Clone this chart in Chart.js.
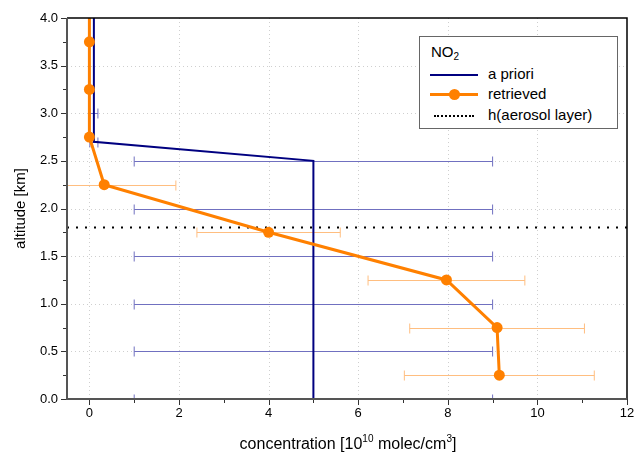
<!DOCTYPE html>
<html>
<head>
<meta charset="utf-8">
<script src="https://cdn.jsdelivr.net/npm/chart.js@4"></script>
<style>
  body { margin: 0; background: #fff; font-family: "Liberation Sans", Arial, sans-serif; }
  #wrap { position: relative; width: 635px; height: 456px; }
  #legend {
    position: absolute; left: 419px; top: 36px; width: 197px; height: 91px;
    border: 1px solid #666; background: #fff; font-size: 15px; color: #000;
  }
  #legend .title { position: absolute; left: 11px; top: 6px; }
  #legend .title sub { font-size: 10px; vertical-align: -3px; }
  #legend .row { position: absolute; left: 10px; height: 18px; width: 185px; }
  #legend .row span.txt { position: absolute; left: 58px; top: 0; line-height: 18px; }
  #legend .sample { position: absolute; left: 0; top: 9px; width: 48px; }
  #legend .dot { position: absolute; left: 19px; top: 4px; width: 11px; height: 11px; border-radius: 50%; background: #ff8000; }
  #xtitle {
    position: absolute; left: 0; width: 696px; top: 435px; text-align: center;
    font-size: 16px; color: #000;
  }
  #xtitle sup { font-size: 10px; vertical-align: 7px; line-height: 0; }
</style>
</head>
<body>
<div id="wrap">
  <canvas id="chart" width="635" height="456"></canvas>
  <div id="legend">
    <div class="title">NO<sub>2</sub></div>
    <div class="row" style="top:28px"><div class="sample" style="border-top:2px solid #000080"></div><span class="txt">a priori</span></div>
    <div class="row" style="top:48px"><div class="sample" style="border-top:3px solid #ff8000;top:8px"></div><div class="dot"></div><span class="txt">retrieved</span></div>
    <div class="row" style="top:69px"><div class="sample" style="border-top:2px dotted #000;width:40px;left:4px"></div><span class="txt">h(aerosol layer)</span></div>
  </div>
  <div id="xtitle">concentration [10<sup>10</sup> molec/cm<sup>3</sup>]</div>
</div>
<script>
// NO2 profile: a priori vs retrieved
const aprioriAlt = [4.0, 3.0, 2.7, 2.5, 2.0, 1.5, 1.0, 0.5, 0.0];
const aprioriConc = [0.1, 0.1, 0.1, 5.0, 5.0, 5.0, 5.0, 5.0, 5.0];
const aprioriErr = [0, 0.09, 0.09, 4.0, 4.0, 4.0, 4.0, 4.0, 4.0];

const retrievedAlt = [4.0, 3.75, 3.25, 2.75, 2.25, 1.75, 1.25, 0.75, 0.25];
const retrievedConc = [0.0, 0.0, 0.0, 0.0, 0.33, 4.0, 7.97, 9.1, 9.15];
const retrievedErr = [0, 0, 0, 0, 1.6, 1.6, 1.75, 1.95, 2.12];
const retrievedMarker = [0, 5.5, 5.5, 5.5, 5.5, 5.5, 5.5, 5.5, 5.5];

const aerosolLayer = 1.8;

const xMin = -0.5, xMax = 12;
const yMin = 0, yMax = 4;
const xTicks = [0, 2, 4, 6, 8, 10, 12];
const yTicks = [0, 0.5, 1.0, 1.5, 2.0, 2.5, 3.0, 3.5, 4.0];
const xMinorStep = 1;
const yMinorStep = 0.25;

const aprioriColor = '#000080';
const aprioriErrColor = '#7070c0';
const retrievedColor = '#ff8000';
const retrievedErrColor = '#ffbe80';

function toPoints(xs, ys) {
  return xs.map((x, i) => ({ x: x, y: ys[i] }));
}

// grid, error bars, frame and small ticks
const profilePlugin = {
  id: 'profile',
  beforeDatasetsDraw(chart) {
    const ctx = chart.ctx;
    const area = chart.chartArea;
    const xs = chart.scales.x, ys = chart.scales.y;

    ctx.save();
    ctx.strokeStyle = '#cfcfcf';
    ctx.lineWidth = 1;
    ctx.setLineDash([1, 3]);
    xTicks.forEach(v => {
      const px = Math.round(xs.getPixelForValue(v)) + 0.5;
      if (px >= area.right - 1) return;
      ctx.beginPath(); ctx.moveTo(px, area.top); ctx.lineTo(px, area.bottom); ctx.stroke();
    });
    yTicks.forEach(v => {
      const py = Math.round(ys.getPixelForValue(v)) + 0.5;
      if (py <= area.top + 1 || py >= area.bottom - 1) return;
      ctx.beginPath(); ctx.moveTo(area.left, py); ctx.lineTo(area.right, py); ctx.stroke();
    });
    ctx.setLineDash([]);

    ctx.beginPath();
    ctx.rect(area.left, area.top, area.right - area.left, area.bottom - area.top);
    ctx.clip();

    function errBars(conc, alt, err, color) {
      ctx.strokeStyle = color;
      ctx.lineWidth = 1;
      conc.forEach((c, i) => {
        if (!err[i]) return;
        const py = Math.round(ys.getPixelForValue(alt[i])) + 0.5;
        const x1 = xs.getPixelForValue(c - err[i]);
        const x2 = xs.getPixelForValue(c + err[i]);
        ctx.beginPath();
        ctx.moveTo(x1, py); ctx.lineTo(x2, py);
        ctx.moveTo(x1, py - 5); ctx.lineTo(x1, py + 5);
        ctx.moveTo(x2, py - 5); ctx.lineTo(x2, py + 5);
        ctx.stroke();
      });
    }
    errBars(aprioriConc, aprioriAlt, aprioriErr, aprioriErrColor);
    errBars(retrievedConc, retrievedAlt, retrievedErr, retrievedErrColor);
    ctx.restore();
  },
  afterDraw(chart) {
    const ctx = chart.ctx;
    const area = chart.chartArea;
    const xs = chart.scales.x, ys = chart.scales.y;
    ctx.save();
    ctx.strokeStyle = '#333';
    ctx.lineWidth = 1;
    for (let v = yMin; v <= yMax + 1e-9; v += yMinorStep) {
      const py = Math.round(ys.getPixelForValue(v)) + 0.5;
      const major = Math.abs(v / 0.5 - Math.round(v / 0.5)) < 1e-6;
      ctx.beginPath(); ctx.moveTo(area.left - (major ? 6 : 4), py); ctx.lineTo(area.left, py); ctx.stroke();
    }
    for (let v = 0; v <= xMax + 1e-9; v += xMinorStep) {
      const px = Math.round(xs.getPixelForValue(v)) + 0.5;
      const major = v % 2 === 0;
      ctx.beginPath(); ctx.moveTo(px, area.bottom); ctx.lineTo(px, area.bottom + (major ? 6 : 4)); ctx.stroke();
    }
    // frame
    ctx.strokeStyle = '#000';
    ctx.lineWidth = 1.5;
    ctx.beginPath();
    ctx.moveTo(area.left, area.top); ctx.lineTo(area.right, area.top); ctx.lineTo(area.right, area.bottom);
    ctx.stroke();
    ctx.strokeStyle = '#555';
    ctx.lineWidth = 2;
    ctx.beginPath();
    ctx.moveTo(area.left, area.top); ctx.lineTo(area.left, area.bottom); ctx.lineTo(area.right, area.bottom);
    ctx.stroke();
    ctx.restore();
  }
};

new Chart(document.getElementById('chart').getContext('2d'), {
  type: 'line',
  data: {
    datasets: [
      {
        label: 'h(aerosol layer)',
        data: [{ x: xMin, y: aerosolLayer }, { x: xMax, y: aerosolLayer }],
        borderColor: '#000',
        borderWidth: 2,
        borderDash: [2, 7],
        pointRadius: 0,
        order: 3
      },
      {
        label: 'a priori',
        data: toPoints(aprioriConc, aprioriAlt),
        borderColor: aprioriColor,
        borderWidth: 2,
        pointRadius: 0,
        tension: 0,
        order: 2
      },
      {
        label: 'retrieved',
        data: toPoints(retrievedConc, retrievedAlt),
        borderColor: retrievedColor,
        backgroundColor: retrievedColor,
        borderWidth: 3,
        pointRadius: retrievedMarker,
        pointBorderWidth: 0,
        tension: 0,
        order: 1
      }
    ]
  },
  options: {
    responsive: false,
    animation: false,
    layout: { padding: { left: 0, right: 8, top: 18, bottom: 0 } },
    plugins: { legend: { display: false }, tooltip: { enabled: false } },
    scales: {
      x: {
        type: 'linear',
        min: xMin,
        max: xMax,
        afterBuildTicks: (scale) => { scale.ticks = xTicks.map(v => ({ value: v })); },
        afterFit: (scale) => { scale.height = 57; scale.paddingLeft = 0; scale.paddingRight = 0; },
        grid: { display: false, drawTicks: false },
        border: { display: false },
        ticks: {
          padding: 7,
          color: '#000',
          font: { family: 'Liberation Sans', size: 13 },
          maxRotation: 0,
          callback: (v) => String(v)
        }
      },
      y: {
        type: 'linear',
        min: yMin,
        max: yMax,
        afterBuildTicks: (scale) => { scale.ticks = yTicks.map(v => ({ value: v })); },
        afterFit: (scale) => { scale.width = 67; scale.paddingTop = 0; scale.paddingBottom = 0; },
        grid: { display: false, drawTicks: false },
        border: { display: false },
        title: {
          display: true,
          text: 'altitude [km]',
          color: '#000',
          font: { family: 'Liberation Sans', size: 15 },
          padding: { top: 12, bottom: 0 }
        },
        ticks: {
          padding: 9,
          color: '#000',
          font: { family: 'Liberation Sans', size: 13 },
          callback: (v) => v.toFixed(1)
        }
      }
    }
  },
  plugins: [profilePlugin]
});
</script>
</body>
</html>
